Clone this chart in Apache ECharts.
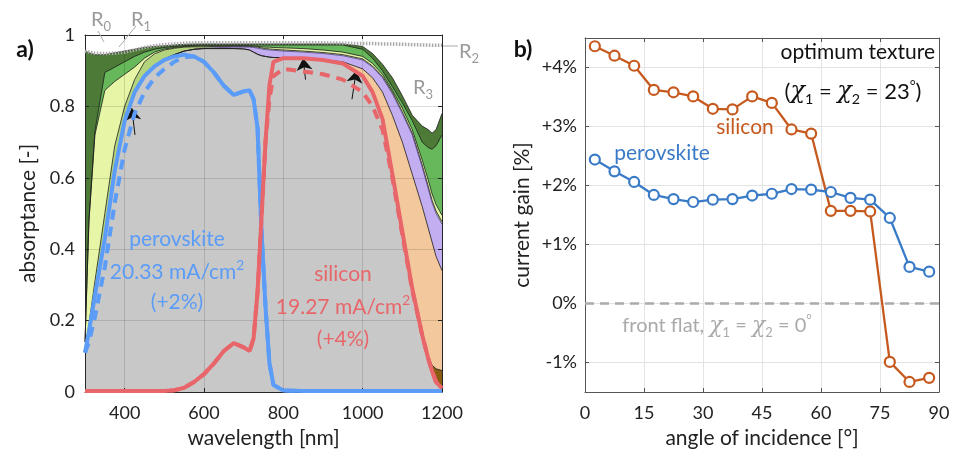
<!DOCTYPE html>
<html>
<head>
<meta charset="utf-8">
<script src="https://cdn.jsdelivr.net/npm/echarts@6/dist/echarts.min.js"></script>
<style>
  html, body { margin: 0; padding: 0; background: #fff; }
  #chart { width: 953px; height: 461px; }
</style>
</head>
<body>
<div id="chart"></div>
<script>
// ---- a) absorptance spectra ----
var wl = [300,310,325,350,375,400,425,450,475,500,525,550,575,600,625,650,675,700,715,725,
          735,745,755,765,775,800,850,900,950,1000,1025,1050,1075,1100,1125,1150,1165,1175,1185,1200];

var pvkSolid = [.11,.17,.27,.43,.62,.76,.84,.885,.912,.93,.94,.945,.94,.925,.895,.858,.832,.842,.845,.82,
                .74,.45,.24,.08,.02,.004,.003,.003,.003,.003,.003,.003,.003,.003,.003,.003,.003,.003,.003,.003];
var pvkDash  = [.11,.14,.21,.35,.53,.68,.78,.84,.88,.905,.925,.938,.94,.925,.895,.858,.832,.842,.845,.82,
                .74,.45,.24,.08,.02,.004,.003,.003,.003,.003,.003,.003,.003,.003,.003,.003,.003,.003,.003,.003];
var siSolid  = [.003,.003,.003,.003,.003,.003,.003,.003,.003,.003,.005,.012,.028,.05,.08,.115,.137,.125,.115,.15,
                .28,.49,.70,.86,.925,.935,.935,.93,.92,.885,.84,.765,.61,.45,.29,.16,.095,.058,.028,.01];
var siDash   = [.003,.003,.003,.003,.003,.003,.003,.003,.003,.003,.005,.012,.028,.05,.08,.115,.137,.125,.115,.15,
                .28,.49,.70,.82,.885,.905,.898,.89,.875,.84,.80,.735,.60,.44,.285,.16,.095,.058,.028,.01];

// cumulative tops of the coloured layers
var grayTop   = [.113,.17,.27,.43,.62,.76,.84,.885,.913,.933,.945,.955,.96,.962,.962,.962,.962,.961,.958,.952,
                 .946,.942,.94,.938,.937,.936,.935,.93,.92,.886,.842,.768,.615,.455,.295,.163,.097,.06,.03,.012];
var brownTop  = [.113,.17,.27,.43,.62,.76,.84,.885,.913,.933,.945,.955,.96,.962,.962,.962,.962,.961,.958,.952,
                 .946,.942,.94,.938,.937,.936,.935,.93,.92,.886,.842,.768,.615,.455,.295,.163,.10,.075,.065,.06];
var orangeTop = [.113,.17,.27,.43,.62,.76,.84,.885,.913,.933,.945,.955,.96,.962,.962,.962,.962,.961,.958,.952,
                 .946,.942,.94,.938,.937,.936,.935,.93,.925,.905,.88,.84,.775,.70,.61,.52,.46,.42,.38,.34];
var purpleTop = [.113,.17,.27,.43,.62,.76,.84,.885,.913,.933,.945,.955,.96,.963,.964,.965,.966,.966,.966,.965,
                 .963,.961,.959,.958,.957,.955,.952,.948,.942,.93,.91,.88,.835,.78,.72,.63,.57,.53,.50,.47];
var oliveTop  = [.12,.19,.31,.50,.69,.80,.875,.925,.947,.958,.963,.966,.967,.967,.968,.968,.968,.968,.968,.967,
                 .966,.964,.962,.961,.96,.958,.955,.951,.945,.933,.913,.884,.84,.785,.725,.636,.577,.537,.507,.477];
var yellowTop = [.14,.48,.72,.845,.87,.89,.91,.935,.952,.961,.965,.968,.969,.97,.97,.97,.97,.97,.97,.969,
                 .968,.967,.966,.966,.965,.964,.962,.958,.952,.94,.92,.89,.845,.795,.735,.65,.595,.555,.525,.495];
var greenTop  = [.14,.48,.73,.895,.91,.925,.94,.952,.96,.965,.968,.97,.971,.972,.972,.972,.972,.972,.972,.972,
                 .972,.972,.972,.972,.972,.972,.972,.972,.972,.96,.935,.90,.855,.81,.76,.70,.685,.68,.69,.72];
var darkTop   = [.955,.95,.945,.945,.95,.955,.96,.965,.968,.97,.972,.974,.975,.975,.975,.975,.975,.975,.975,.975,
                 .975,.975,.975,.975,.975,.975,.975,.975,.975,.968,.948,.918,.88,.83,.775,.745,.735,.725,.735,.78];
var rLine     = [.955,.952,.949,.948,.949,.952,.958,.965,.97,.973,.975,.977,.978,.978,.978,.978,.978,.978,.978,.978,
                 .978,.978,.978,.978,.978,.978,.978,.978,.977,.976,.976,.975,.975,.974,.973,.972,.972,.971,.971,.971];

var wlTicks = [400, 600, 800, 1000, 1200];

// ---- b) current gain vs angle ----
var angles  = [2.5,7.5,12.5,17.5,22.5,27.5,32.5,37.5,42.5,47.5,52.5,57.5,62.5,67.5,72.5,77.5,82.5,87.5];
var siGain  = [4.36,4.20,4.03,3.62,3.58,3.51,3.30,3.29,3.51,3.40,2.95,2.88,1.57,1.57,1.56,-0.99,-1.33,-1.26];
var pvkGain = [2.44,2.24,2.06,1.84,1.77,1.72,1.76,1.77,1.83,1.86,1.94,1.93,1.89,1.79,1.76,1.45,0.62,0.54];
var gainTicks = [-1, 0, 1, 2, 3, 4];

var FONT = 'Lato';
var BLUE = '#5A9CF8', RED = '#E8666A';
var SI = '#C65A1E', PVK = '#3A7BC8';

function pairs(xs, ys) {
  return xs.map(function (x, i) { return [x, ys[i]]; });
}

function layer(name, tops, fill, edge) {
  return {
    name: name, type: 'line', xAxisIndex: 0, yAxisIndex: 0,
    data: pairs(wl, tops), showSymbol: false, silent: true,
    lineStyle: { color: edge || '#1c1c1c', width: 0.8 },
    areaStyle: { color: fill, opacity: 1, origin: 'start' }
  };
}

function curve(name, vals, color, dashed) {
  return {
    name: name, type: 'line', xAxisIndex: 0, yAxisIndex: 0, z: 20,
    data: pairs(wl, vals), showSymbol: false, silent: true,
    lineStyle: { color: color, width: 4, type: dashed ? [10, 7] : 'solid' }
  };
}

var chart = echarts.init(document.getElementById('chart'));

var frame = { show: true, onZero: false, lineStyle: { color: '#262626', width: 1 } };
var frameR = { show: true, onZero: false, lineStyle: { color: '#555', width: 1 } };
var tickStyle = { color: '#222', fontSize: 18, fontFamily: FONT };

function txt(x, y, text, color, size, align, rich, weight) {
  return {
    type: 'text', x: x, y: y, silent: true, z: 100,
    style: {
      text: text, fill: color, font: (weight || 'normal') + ' ' + size + 'px ' + FONT,
      align: align || 'center', verticalAlign: 'middle', rich: rich
    }
  };
}

function richSet(color, size) {
  return {
    n: { fontSize: size, lineHeight: size + 6, color: color, fontFamily: FONT },
    i: { fontSize: size + 2, lineHeight: size + 6, color: color, fontFamily: 'DejaVu Serif', fontStyle: 'italic' },
    s: { fontSize: size * 0.65, lineHeight: 10, color: color, fontFamily: FONT, verticalAlign: 'bottom' },
    p: { fontSize: size * 0.65, lineHeight: 10, color: color, fontFamily: FONT, verticalAlign: 'top' }
  };
}

var option = {
  animation: false,
  grid: [
    { left: 85, top: 35, width: 357, height: 357 },
    { left: 585, top: 38, width: 354, height: 354 }
  ],
  xAxis: [
    { type: 'value', gridIndex: 0, min: 300, max: 1200, z: 10,
      axisLine: frame, axisTick: { inside: true, length: 4, customValues: wlTicks, lineStyle: { color: '#262626' } },
      axisLabel: Object.assign({ margin: 12, customValues: wlTicks, formatter: function (v) { return String(v); } }, tickStyle),
      splitLine: { show: true, lineStyle: { color: 'rgba(0,0,0,0.13)' } },
      name: 'wavelength [nm]', nameLocation: 'middle', nameGap: 36,
      nameTextStyle: { fontSize: 21, color: '#222', fontFamily: FONT } },
    { type: 'value', gridIndex: 0, min: 300, max: 1200, position: 'top', z: 10,
      axisLine: frame, axisTick: { inside: true, length: 4, customValues: wlTicks, lineStyle: { color: '#262626' } },
      axisLabel: { show: false }, splitLine: { show: false } },
    { type: 'value', gridIndex: 1, min: 0, max: 90, interval: 15,
      axisLine: frameR, axisTick: { inside: true, length: 4, lineStyle: { color: '#555' } },
      axisLabel: Object.assign({ margin: 12 }, tickStyle),
      splitLine: { show: true, lineStyle: { color: '#e3e3e3' } },
      name: 'angle of incidence [°]', nameLocation: 'middle', nameGap: 36,
      nameTextStyle: { fontSize: 21, color: '#222', fontFamily: FONT } },
    { type: 'value', gridIndex: 1, min: 0, max: 90, interval: 15, position: 'top',
      axisLine: frameR, axisTick: { inside: true, length: 4, lineStyle: { color: '#555' } },
      axisLabel: { show: false }, splitLine: { show: false } }
  ],
  yAxis: [
    { type: 'value', gridIndex: 0, min: 0, max: 1, interval: 0.2, z: 10,
      axisLine: frame, axisTick: { show: true, inside: true, length: 4, lineStyle: { color: '#262626' } },
      axisLabel: Object.assign({ margin: 10 }, tickStyle),
      splitLine: { show: true, lineStyle: { color: 'rgba(0,0,0,0.13)' } },
      name: 'absorptance [-]', nameLocation: 'middle', nameGap: 46, nameRotate: 90,
      nameTextStyle: { fontSize: 21, color: '#222', fontFamily: FONT } },
    { type: 'value', gridIndex: 0, min: 0, max: 1, interval: 0.2, position: 'right', z: 10,
      axisLine: frame, axisTick: { show: true, inside: true, length: 4, lineStyle: { color: '#262626' } },
      axisLabel: { show: false }, splitLine: { show: false } },
    { type: 'value', gridIndex: 1, min: -1.5, max: 4.5,
      axisLine: frameR, axisTick: { show: true, inside: true, length: 4, customValues: gainTicks, lineStyle: { color: '#555' } },
      axisLabel: Object.assign({ margin: 8, customValues: gainTicks,
        formatter: function (v) { return (v > 0 ? '+' : '') + v + '%'; } }, tickStyle),
      splitLine: { show: true, lineStyle: { color: '#e3e3e3' } },
      name: 'current gain [%]', nameLocation: 'middle', nameGap: 52, nameRotate: 90,
      nameTextStyle: { fontSize: 21, color: '#222', fontFamily: FONT } },
    { type: 'value', gridIndex: 1, min: -1.5, max: 4.5, position: 'right',
      axisLine: frameR, axisTick: { show: true, inside: true, length: 4, customValues: gainTicks, lineStyle: { color: '#555' } },
      axisLabel: { show: false }, splitLine: { show: false } }
  ],
  series: [
    layer('dark', darkTop, '#4D7A36'),
    layer('green', greenTop, '#66B85A'),
    layer('yellow', yellowTop, '#E7F6A6'),
    layer('olive', oliveTop, '#B3D47C'),
    layer('purple', purpleTop, '#C3AEF2', '#5b4596'),
    layer('orange', orangeTop, '#F2C89C'),
    layer('brown', brownTop, '#8A5C12'),
    {
      name: 'active', type: 'line', xAxisIndex: 0, yAxisIndex: 0,
      data: pairs(wl, grayTop), showSymbol: false, silent: true,
      lineStyle: { width: 0 }, areaStyle: { color: '#C8C8C8', opacity: 1, origin: 'start' }
    },
    {
      name: 'R', type: 'line', xAxisIndex: 0, yAxisIndex: 0, z: 15,
      data: pairs(wl, rLine), showSymbol: false, silent: true,
      lineStyle: { color: '#a8a8a8', width: 3.5, type: [1.5, 1.5] }
    },
    curve('pvk flat', pvkDash, BLUE, true),
    curve('si flat', siDash, RED, true),
    curve('perovskite', pvkSolid, BLUE, false),
    {
      name: 'silicon', type: 'line', xAxisIndex: 0, yAxisIndex: 0, z: 20,
      data: pairs(wl, siSolid), showSymbol: false, silent: true,
      lineStyle: { color: RED, width: 4 },
      markLine: {
        silent: true, symbol: ['none', 'arrow'], symbolSize: 12,
        lineStyle: { color: '#111', width: 1, type: 'solid' }, label: { show: false },
        data: [
          [{ coord: [426, 0.72] }, { coord: [418, 0.795] }],
          [{ coord: [856, 0.875] }, { coord: [850, 0.935] }],
          [{ coord: [973, 0.82] }, { coord: [984, 0.9] }]
        ]
      }
    },

    {
      name: 'silicon gain', type: 'line', xAxisIndex: 2, yAxisIndex: 2,
      data: pairs(angles, siGain), symbol: 'circle', symbolSize: 10, showSymbol: true,
      lineStyle: { color: SI, width: 2.3 },
      itemStyle: { color: '#fff', borderColor: SI, borderWidth: 2.2 },
      markLine: {
        silent: true, symbol: 'none', label: { show: false },
        lineStyle: { color: '#ababab', width: 2.5, type: [9, 6] },
        data: [{ yAxis: 0 }]
      }
    },
    {
      name: 'perovskite gain', type: 'line', xAxisIndex: 2, yAxisIndex: 2,
      data: pairs(angles, pvkGain), symbol: 'circle', symbolSize: 10, showSymbol: true,
      lineStyle: { color: PVK, width: 2.3 },
      itemStyle: { color: '#fff', borderColor: PVK, borderWidth: 2.2 }
    }
  ],
  graphic: [
    txt(25, 50, 'a)', '#111', 23, 'center', null, 'bold'),
    txt(523, 50, 'b)', '#111', 23, 'center', null, 'bold'),

    // R labels
    txt(101, 20, '{n|R}{s|0}', '#9a9a9a', 20, 'center', richSet('#9a9a9a', 20)),
    txt(141, 20, '{n|R}{s|1}', '#9a9a9a', 20, 'center', richSet('#9a9a9a', 20)),
    txt(469, 52, '{n|R}{s|2}', '#9a9a9a', 20, 'center', richSet('#9a9a9a', 20)),
    txt(423, 88, '{n|R}{s|3}', '#9a9a9a', 20, 'center', richSet('#9a9a9a', 20)),
    { type: 'line', silent: true, z: 100, shape: { x1: 98, y1: 31, x2: 104, y2: 42 }, style: { stroke: '#aaa', lineWidth: 1 } },
    { type: 'line', silent: true, z: 100, shape: { x1: 136, y1: 26, x2: 119, y2: 47 }, style: { stroke: '#aaa', lineWidth: 1 } },
    { type: 'line', silent: true, z: 100, shape: { x1: 443, y1: 46, x2: 458, y2: 46 }, style: { stroke: '#aaa', lineWidth: 1 } },

    // left panel texts
    txt(177, 239, 'perovskite', BLUE, 21),
    txt(177, 272, '{n|20.33 mA/cm}{p|2}', BLUE, 21, 'center', richSet(BLUE, 21)),
    txt(177, 302, '(+2%)', BLUE, 21),
    txt(343, 274, 'silicon', RED, 21),
    txt(343, 307, '{n|19.27 mA/cm}{p|2}', RED, 21, 'center', richSet(RED, 21)),
    txt(343, 339, '(+4%)', RED, 21),

    // right panel texts
    txt(935, 52, 'optimum texture', '#111', 21, 'right'),
    txt(853, 92, '{n|(}{i|χ}{s|1}{n| = }{i|χ}{s|2}{n| = 23}{p|°}{n|)}', '#111', 22, 'center', richSet('#111', 22)),
    txt(745, 127, 'silicon', SI, 21),
    txt(662, 153, 'perovskite', PVK, 21),
    txt(717, 326, '{n|front flat, }{i|χ}{s|1}{n| = }{i|χ}{s|2}{n| = 0}{p|°}', '#aaaaaa', 20, 'center', richSet('#aaaaaa', 20))
  ]
};

chart.setOption(option);
</script>
</body>
</html>
